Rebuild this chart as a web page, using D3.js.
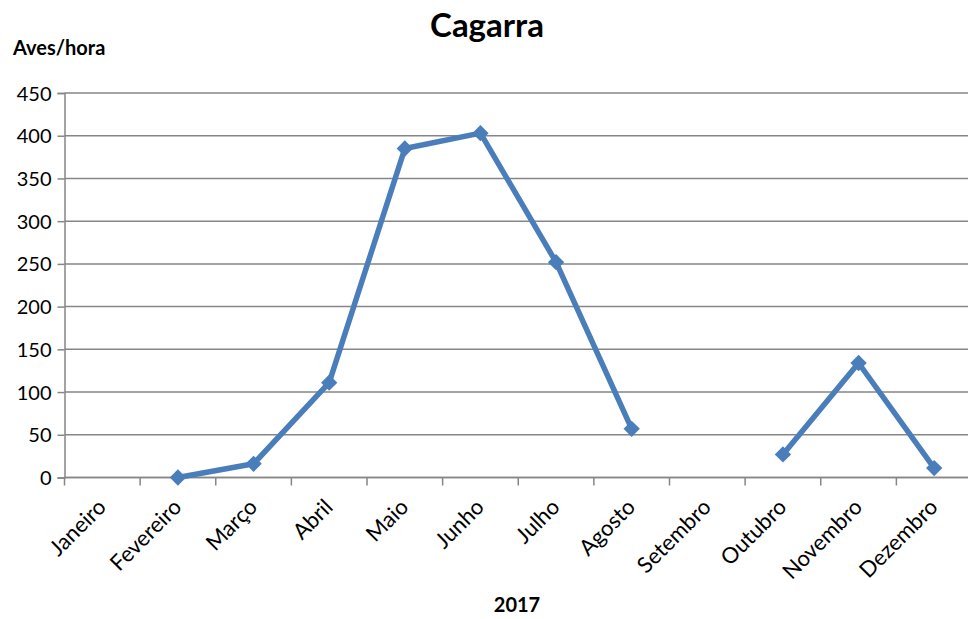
<!DOCTYPE html>
<html>
<head>
<meta charset="utf-8">
<script src="https://cdn.jsdelivr.net/npm/d3@7"></script>
<style>
  html, body { margin: 0; padding: 0; background: #fff; }
  svg { display: block; font-family: Lato, "Open Sans", sans-serif; }
</style>
</head>
<body>
<svg id="chart" width="968" height="619"></svg>
<script>
// Monthly seabird passage rate (birds per hour), 2017
const months = ["Janeiro", "Fevereiro", "Março", "Abril", "Maio", "Junho",
                "Julho", "Agosto", "Setembro", "Outubro", "Novembro", "Dezembro"];
const avesHora = [null, 0, 16, 111, 385, 403, 252, 57, null, 27, 134, 11];
const yTicks = [0, 50, 100, 150, 200, 250, 300, 350, 400, 450];

const svg = d3.select("#chart");
const margin = { left: 64.5, right: 972, top: 93, bottom: 477.5 };

const x = d3.scaleBand().domain(months).range([margin.left, margin.right]).padding(0);
const y = d3.scaleLinear().domain([0, 450]).range([margin.bottom, margin.top]);
const grey = "#868686";

// horizontal gridlines
svg.append("g").selectAll("line").data(yTicks).join("line")
  .attr("x1", margin.left).attr("x2", margin.right)
  .attr("y1", d => y(d)).attr("y2", d => y(d))
  .attr("stroke", grey).attr("stroke-width", 1.5);

// y axis
const yAxis = svg.append("g").attr("transform", `translate(${margin.left},0)`)
  .call(d3.axisLeft(y).tickValues(yTicks).tickSize(7).tickPadding(6));
yAxis.select(".domain").attr("stroke", grey).attr("stroke-width", 1.5);
yAxis.selectAll(".tick line").attr("stroke", grey).attr("stroke-width", 1.5);
yAxis.selectAll(".tick text").attr("font-size", 20).attr("fill", "#000")
  .attr("font-family", "Lato, sans-serif").attr("dy", "0.35em");

// x axis with ticks between categories
const xAxis = svg.append("g").attr("transform", `translate(0,${margin.bottom})`);
xAxis.append("line").attr("x1", margin.left).attr("x2", margin.right)
  .attr("stroke", grey).attr("stroke-width", 1.5);
xAxis.selectAll("line.tk").data(months).join("line").attr("class", "tk")
  .attr("x1", d => x(d)).attr("x2", d => x(d))
  .attr("y1", 0).attr("y2", 8)
  .attr("stroke", grey).attr("stroke-width", 1.5);
xAxis.selectAll("text").data(months).join("text")
  .attr("transform", d => `translate(${x(d) + x.bandwidth() / 2 + 5},${31}) rotate(-45)`)
  .attr("text-anchor", "end")
  .attr("font-size", 22)
  .attr("fill", "#000")
  .text(d => d);

// series line, broken where no data
const blue = "#4a7ebb";
const line = d3.line()
  .defined(d => d.v !== null)
  .x(d => x(d.m) + x.bandwidth() / 2)
  .y(d => y(d.v));
const pts = months.map((m, i) => ({ m, v: avesHora[i] }));

svg.append("path").datum(pts)
  .attr("d", line)
  .attr("fill", "none")
  .attr("stroke", blue)
  .attr("stroke-width", 5.5)
  .attr("stroke-linejoin", "round");

// diamond markers
const diamond = d3.symbol().type(d3.symbolDiamond2).size(170);
svg.append("g").selectAll("path").data(pts.filter(d => d.v !== null)).join("path")
  .attr("transform", d => `translate(${x(d.m) + x.bandwidth() / 2},${y(d.v)})`)
  .attr("d", diamond)
  .attr("fill", blue);

// titles
svg.append("text").attr("x", 487).attr("y", 37)
  .attr("text-anchor", "middle").attr("font-size", 33).attr("font-weight", "bold")
  .text("Cagarra");
svg.append("text").attr("x", 13).attr("y", 55)
  .attr("font-size", 20).attr("font-weight", "bold")
  .text("Aves/hora");
svg.append("text").attr("x", 517).attr("y", 612)
  .attr("text-anchor", "middle").attr("font-size", 20).attr("font-weight", "bold")
  .text("2017");
</script>
</body>
</html>
